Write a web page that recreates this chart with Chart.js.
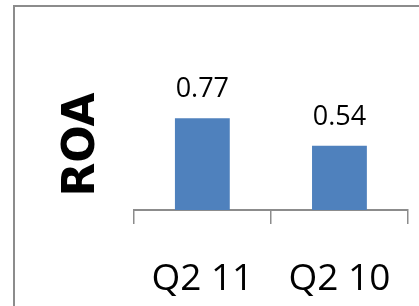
<!DOCTYPE html>
<html>
<head>
<meta charset="utf-8">
<script src="https://cdn.jsdelivr.net/npm/chart.js@4.4.1/dist/chart.umd.min.js"></script>
<style>
  html, body { margin: 0; padding: 0; background: #fff; }
  #wrap { position: relative; width: 419px; height: 306px; overflow: hidden; }
  #frame { position: absolute; left: 13px; top: 5px; width: 420px; height: 320px;
           border-left: 2px solid #8c8c8c; border-top: 2px solid #8c8c8c; }
  canvas { position: absolute; left: 0; top: 0; }
</style>
</head>
<body>
<div id="wrap">
  <div id="frame"></div>
  <canvas id="barChart" width="419" height="306"></canvas>
</div>
<script>
var categories = ["Q2 11", "Q2 10"];
var roaValues = [0.77, 0.54];
var axisTitle = "ROA";

// draw value labels above each bar
var valueLabels = {
  id: "valueLabels",
  afterDatasetsDraw: function (chart) {
    var ctx = chart.ctx;
    var meta = chart.getDatasetMeta(0);
    ctx.save();
    ctx.font = "27px 'Open Sans'";
    ctx.fillStyle = "#000";
    ctx.textAlign = "center";
    ctx.textBaseline = "bottom";
    meta.data.forEach(function (bar, i) {
      ctx.fillText(roaValues[i].toFixed(2), bar.x, bar.y - 15);
    });
    ctx.restore();
  },
};

var ctx = document.getElementById("barChart").getContext("2d");
var barChart = new Chart(ctx, {
  type: "bar",
  data: {
    labels: categories,
    datasets: [
      {
        label: "ROA",
        data: roaValues,
        backgroundColor: "#4f81bd",
        categoryPercentage: 1,
        barPercentage: 0.4,
      },
    ],
  },
  options: {
    responsive: false,
    animation: false,
    layout: { padding: { left: 38, right: 11, top: 79, bottom: 1 } },
    plugins: { legend: { display: false }, tooltip: { enabled: false } },
    scales: {
      x: {
        afterFit: function (scale) {
          scale.height = 95;
          scale.paddingLeft = 0;
          scale.paddingRight = 0;
        },
        grid: {
          offset: true,
          drawOnChartArea: false,
          color: "#8c8c8c",
          lineWidth: 1.5,
          tickLength: 14,
        },
        border: { color: "#8c8c8c", width: 2 },
        ticks: {
          color: "#000",
          font: { family: "'Open Sans'", size: 37 },
          padding: 33,
          maxRotation: 0,
        },
      },
      y: {
        min: 0,
        max: 1.1,
        grid: { display: false },
        border: { display: false },
        ticks: { display: false },
        title: {
          display: true,
          text: axisTitle,
          color: "#000",
          font: { family: "'DejaVu Sans'", size: 44, weight: "bold" },
          padding: { top: 18, bottom: 17 },
        },
      },
    },
  },
  plugins: [valueLabels],
});
</script>
</body>
</html>
